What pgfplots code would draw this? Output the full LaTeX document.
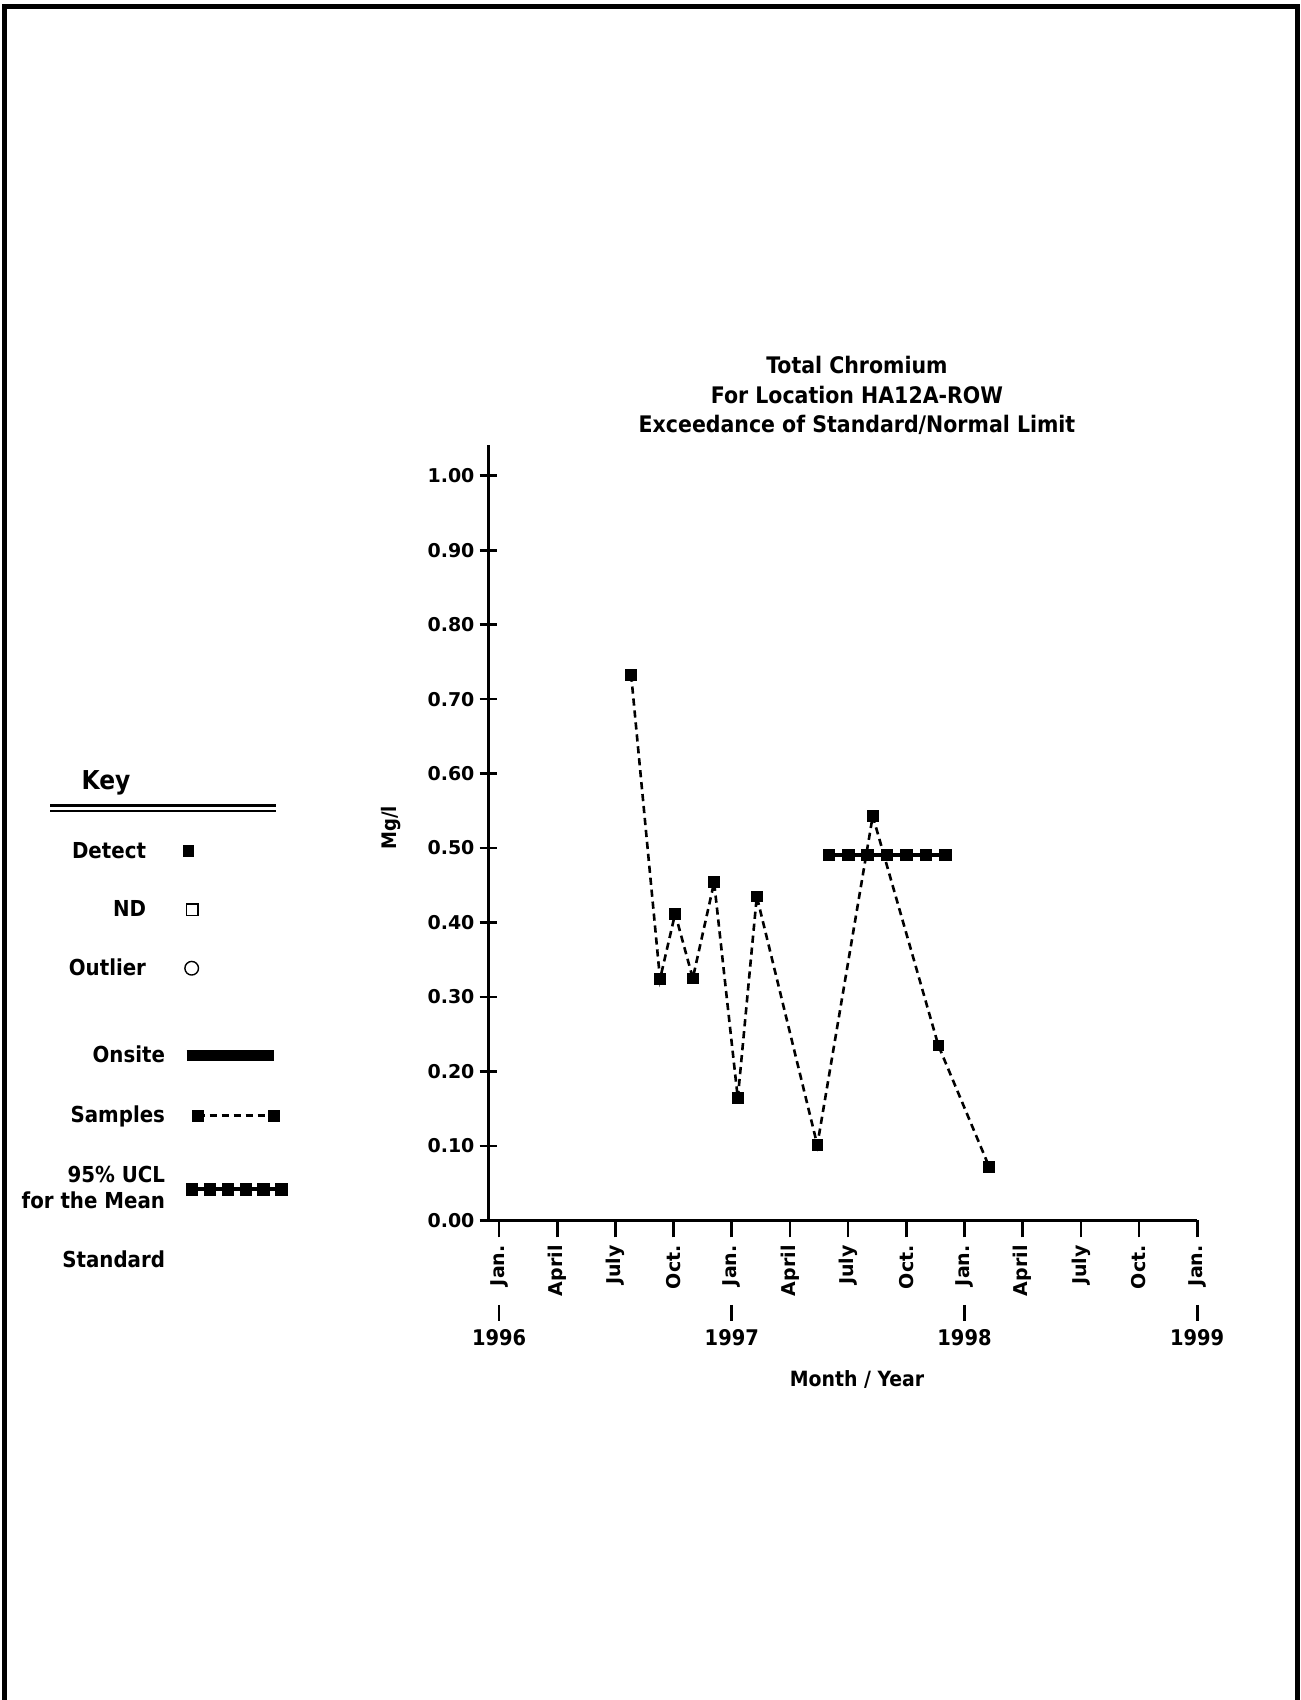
\documentclass[border=0pt]{standalone}
\usepackage{fontspec}
\setmainfont{DejaVu Sans}
\newfontfamily\condfont{DejaVu Sans Condensed}
\usepackage{pgfplots}
\pgfplotsset{compat=1.18}
\newcommand\tickfont{\fontsize{9.5}{10}\selectfont\bfseries}
\newcommand\condb[1]{\fontsize{#1}{#1}\selectfont\condfont\bfseries}
\tikzset{tx/.style={inner sep=0pt, outer sep=0pt, text height=0.73em, text depth=0pt}}
\begin{document}
\begin{tikzpicture}
\path[use as bounding box] (0,0) rectangle (650pt,-850pt);
% ---------- overlay in page pixel units ----------
\begin{axis}[at={(0pt,0pt)}, anchor=north west, scale only axis,
  width=650pt, height=850pt, xmin=0, xmax=1300, ymin=0, ymax=1700,
  y dir=reverse, hide axis, clip=false]
  % frame (open at bottom)
  \addplot[line width=2.6pt, line join=miter, black, mark=none] coordinates {(4.2,1710) (4.2,6.7) (1297.5,6.7) (1297.5,1710)};
  % title
  \node[tx, font=\condb{11.4}] at (axis cs:857,366.5) {Total Chromium};
  \node[tx, font=\condb{11.4}] at (axis cs:857,395.7) {For Location HA12A-ROW};
  \node[tx, font=\condb{11.4}] at (axis cs:857,425) {Exceedance of Standard/Normal Limit};
  % axis labels
  \node[tx, font=\condb{10}, rotate=90] at (axis cs:389,828) {Mg/l};
  \node[tx, font=\condb{10.5}] at (axis cs:857,1379) {Month / Year};
  % key
  \node[tx, font=\condb{13}] at (axis cs:106,782) {Key};
  \addplot[line width=1.2pt, black, mark=none] coordinates {(50,805.3) (276,805.3)};
  \addplot[line width=1.2pt, black, mark=none] coordinates {(50,810.7) (276,810.7)};
  \node[tx, font=\condb{11}, anchor=east] at (axis cs:146,851) {Detect};
  \addplot[only marks, mark=square*, mark size=2.6pt, black] coordinates {(188.3,851)};
  \node[tx, font=\condb{11}, anchor=east] at (axis cs:146,909.6) {ND};
  \addplot[only marks, mark=square, mark size=2.9pt, black, mark options={line width=0.7pt}] coordinates {(192.3,909.6)};
  \node[tx, font=\condb{11}, anchor=east] at (axis cs:146,968.2) {Outlier};
  \addplot[only marks, mark=o, mark size=3.4pt, black, mark options={line width=0.7pt}] coordinates {(191.7,968.2)};
  \node[tx, font=\condb{11}, anchor=east] at (axis cs:165,1055) {Onsite};
  \addplot[line width=5.5pt, black, mark=none] coordinates {(186.7,1055) (274.3,1055)};
  \node[tx, font=\condb{11}, anchor=east] at (axis cs:165,1115.6) {Samples};
  \addplot[line width=1.3pt, black, dash pattern=on 3.6pt off 2.4pt, mark=square*, mark size=2.7pt, mark options={solid, line width=0.4pt}] coordinates {(197.5,1115.6) (273.8,1115.6)};
  \node[tx, font=\condb{11}, anchor=east] at (axis cs:165,1175.3) {95\% UCL};
  \node[tx, font=\condb{11}, anchor=east] at (axis cs:165,1201.3) {for the Mean};
  \addplot[line width=2pt, black, mark=square*, mark size=2.9pt, mark options={solid, line width=0.4pt}] coordinates {(192,1189.4) (209.9,1189.4) (227.8,1189.4) (245.7,1189.4) (263.6,1189.4) (281.5,1189.4)};
  \node[tx, font=\condb{11}, anchor=east] at (axis cs:165,1259.8) {Standard};
\end{axis}
% ---------- main chart ----------
\begin{axis}[at={(244pt,-610.15pt)}, anchor=south west, scale only axis,
  width=354.6pt, height=387.9pt,
  xmin=-0.57, xmax=36, ymin=0, ymax=1.042,
  axis x line*=bottom, axis y line*=left,
  axis line style={line width=1.5pt, black, -},
  tick style={line width=1.3pt, black},
  major tick length=8.5pt,
  xtick align=outside, ytick align=center,
  xtick={0,3,6,9,12,15,18,21,24,27,30,33,36},
  xticklabels={Jan.,April,July,Oct.,Jan.,April,July,Oct.,Jan.,April,July,Oct.,Jan.},
  ytick={0,0.1,0.2,0.3,0.4,0.5,0.6,0.7,0.8,0.9,1.0},
  /pgf/number format/assume math mode=true,
  yticklabel style={font=\tickfont, xshift=1pt, /pgf/number format/fixed, /pgf/number format/fixed zerofill, /pgf/number format/precision=2},
  xticklabel style={font=\tickfont, rotate=90, anchor=east, yshift=0pt, xshift=-0.5pt},
  clip=false]
  % 95% UCL for the mean
  \addplot[line width=2pt, black, mark=square*, mark size=2.9pt, mark options={solid, line width=0.4pt}] coordinates {
    (17,0.491) (18,0.491) (19,0.491) (20,0.491) (21,0.491) (22,0.491) (23,0.491)};
  % samples
  \addplot[line width=1.3pt, black, dash pattern=on 3.6pt off 2.4pt, mark=square*, mark size=2.7pt, mark options={solid, line width=0.4pt}] coordinates {
    (6.81,0.733) (8.30,0.324) (9.08,0.412) (9.99,0.325) (11.09,0.454) (12.31,0.164)
    (13.29,0.435) (16.41,0.101) (19.27,0.543) (22.65,0.235) (25.27,0.072)};
  % year ticks and labels
  \draw[line width=1.3pt] (axis cs:0,0) ++(0pt,-42.3pt) -- ++(0pt,-8pt);
  \draw[line width=1.3pt] (axis cs:12,0) ++(0pt,-42.3pt) -- ++(0pt,-8pt);
  \draw[line width=1.3pt] (axis cs:24,0) ++(0pt,-42.3pt) -- ++(0pt,-8pt);
  \draw[line width=1.3pt] (axis cs:36,0) ++(0pt,-42.3pt) -- ++(0pt,-8pt);
  \node[tx, font=\condb{10.8}] at ([yshift=-58.9pt]axis cs:0,0) {1996};
  \node[tx, font=\condb{10.8}] at ([yshift=-58.9pt]axis cs:12,0) {1997};
  \node[tx, font=\condb{10.8}] at ([yshift=-58.9pt]axis cs:24,0) {1998};
  \node[tx, font=\condb{10.8}] at ([yshift=-58.9pt]axis cs:36,0) {1999};
\end{axis}
\end{tikzpicture}
\end{document}
